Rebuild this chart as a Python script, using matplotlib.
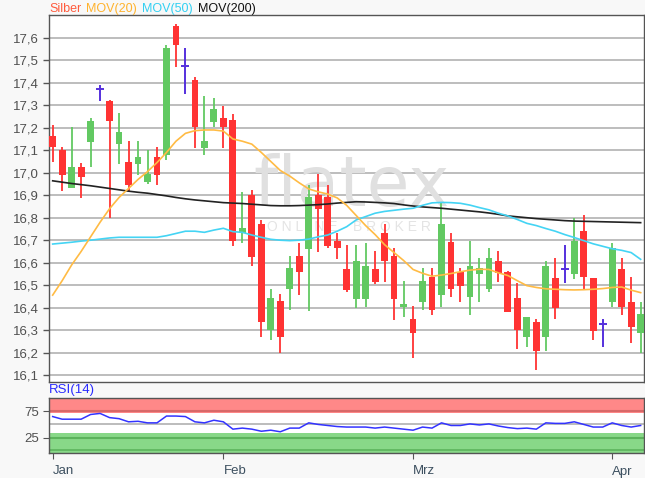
import numpy as np
from matplotlib import pyplot as plt
from matplotlib.ticker import FuncFormatter

plt.rcParams['font.family'] = ['Liberation Sans', 'DejaVu Sans']

# daily candles, silver (index = trading day)
opens = [17.163, 17.101, 16.931, 17.024, 17.138, 17.372, 17.320, 17.128, 17.049, 17.039,
         16.957, 17.071, 17.079, 17.652, 17.476, 17.412, 17.111, 17.227, 17.242, 17.234,
         16.731, 16.901, 16.771, 16.301, 16.430, 16.484, 16.630, 16.660, 16.901, 16.891,
         16.698, 16.572, 16.437, 16.437, 16.572, 16.731, 16.630, 16.404, 16.350, 16.427,
         16.538, 16.456, 16.691, 16.560, 16.446, 16.548, 16.483, 16.609, 16.560, 16.442,
         16.268, 16.338, 16.268, 16.531, 16.571, 16.548, 16.742, 16.531, 16.328, 16.427,
         16.572, 16.427, 16.289]
highs = [17.212, 17.116, 17.204, 17.042, 17.242, 17.390, 17.323, 17.264, 17.141, 17.141,
         17.101, 17.116, 17.568, 17.660, 17.556, 17.424, 17.341, 17.331, 17.298, 17.260,
         16.916, 16.923, 16.790, 16.483, 16.461, 16.630, 16.689, 16.945, 16.993, 16.945,
         16.732, 16.679, 16.679, 16.689, 16.653, 16.771, 16.667, 16.519, 16.409, 16.578,
         16.578, 16.864, 16.733, 16.578, 16.698, 16.620, 16.667, 16.652, 16.564, 16.509,
         16.360, 16.349, 16.609, 16.620, 16.679, 16.800, 16.812, 16.531, 16.349, 16.689,
         16.620, 16.538, 16.427]
lows = [17.049, 16.920, 16.931, 16.886, 17.027, 17.319, 16.800, 17.037, 16.916, 16.990,
        16.950, 16.945, 17.057, 17.471, 17.350, 17.111, 17.079, 17.204, 17.111, 16.676,
        16.686, 16.585, 16.268, 16.256, 16.197, 16.390, 16.456, 16.387, 16.649, 16.664,
        16.616, 16.468, 16.397, 16.404, 16.504, 16.516, 16.345, 16.357, 16.175, 16.390,
        16.368, 16.404, 16.446, 16.427, 16.368, 16.427, 16.471, 16.516, 16.380, 16.216,
        16.224, 16.123, 16.209, 16.349, 16.509, 16.526, 16.479, 16.256, 16.224, 16.404,
        16.368, 16.244, 16.200]
closes = [17.116, 16.990, 17.027, 16.980, 17.231, 17.372, 17.230, 17.182, 16.945, 17.071,
          16.993, 16.990, 17.556, 17.568, 17.476, 17.204, 17.141, 17.283, 17.204, 16.698,
          16.753, 16.627, 16.335, 16.442, 16.268, 16.578, 16.559, 16.891, 16.839, 16.674,
          16.664, 16.479, 16.609, 16.587, 16.516, 16.609, 16.437, 16.416, 16.286, 16.520,
          16.390, 16.771, 16.483, 16.496, 16.587, 16.575, 16.620, 16.553, 16.380, 16.301,
          16.360, 16.209, 16.587, 16.397, 16.571, 16.698, 16.538, 16.298, 16.328, 16.664,
          16.404, 16.316, 16.371]

mov20 = [16.456, 16.52, 16.59, 16.65, 16.715, 16.78, 16.84, 16.89, 16.93, 16.97,
         17.005, 17.045, 17.09, 17.14, 17.175, 17.187, 17.19, 17.19, 17.185, 17.15,
         17.14, 17.127, 17.09, 17.05, 17.01, 16.985, 16.955, 16.928, 16.915, 16.905,
         16.888, 16.855, 16.81, 16.765, 16.725, 16.68, 16.645, 16.61, 16.57, 16.553,
         16.54, 16.545, 16.552, 16.56, 16.567, 16.571, 16.57, 16.555, 16.543, 16.52,
         16.498, 16.49, 16.484, 16.482, 16.48, 16.479, 16.48, 16.482, 16.485, 16.49,
         16.492, 16.478, 16.467]
mov50 = [16.683, 16.687, 16.691, 16.696, 16.70, 16.705, 16.71, 16.713, 16.713, 16.713,
         16.713, 16.713, 16.72, 16.73, 16.74, 16.74, 16.735, 16.745, 16.753, 16.738,
         16.735, 16.723, 16.713, 16.704, 16.70, 16.698, 16.70, 16.705, 16.715, 16.723,
         16.74, 16.76, 16.79, 16.805, 16.82, 16.828, 16.833, 16.838, 16.842, 16.855,
         16.866, 16.868, 16.867, 16.864, 16.856, 16.845, 16.835, 16.82, 16.808, 16.792,
         16.775, 16.765, 16.752, 16.74, 16.725, 16.712, 16.698, 16.684, 16.673, 16.662,
         16.655, 16.645, 16.615]
mov200 = [16.964, 16.958, 16.952, 16.947, 16.942, 16.936, 16.930, 16.924, 16.918, 16.913,
          16.909, 16.903, 16.897, 16.89, 16.884, 16.879, 16.875, 16.871, 16.867, 16.865,
          16.863, 16.86, 16.857, 16.854, 16.853, 16.853, 16.854, 16.856, 16.858, 16.861,
          16.865, 16.868, 16.871, 16.87, 16.868, 16.866, 16.863, 16.857, 16.852, 16.848,
          16.845, 16.842, 16.838, 16.834, 16.83, 16.826, 16.821, 16.815, 16.808, 16.804,
          16.8, 16.796, 16.793, 16.79, 16.787, 16.785, 16.784, 16.783, 16.782, 16.781,
          16.78, 16.779, 16.778]
rsi = [65, 60, 60, 60, 69, 71, 63, 61, 55, 56,
       53, 53, 66, 66, 65, 55, 53, 58, 55, 41,
       43, 41, 37, 39, 36, 43, 43, 53, 50, 48,
       46, 45, 45, 45, 43, 45, 43, 41, 39, 45,
       43, 53, 48, 48, 51, 49, 51, 47, 44, 42,
       43, 41, 53, 52, 52, 55, 50, 45, 45, 53,
       48, 45, 48]

month_pos = [0, 18, 38, 59]
month_labels = ["Jan", "Feb", "Mrz", "Apr"]
price_ticks = [16.1, 16.2, 16.3, 16.4, 16.5, 16.6, 16.7, 16.8, 16.9, 17.0,
               17.1, 17.2, 17.3, 17.4, 17.5, 17.6]

RED = '#ff3333'
GREEN = '#62c962'
DOJI = '#5530dd'
W, H = 645, 478

fig = plt.figure(figsize=(W / 100, H / 100), dpi=100, facecolor='#f8f8f8')
ax = fig.add_axes([48.5 / W, 1 - 381.5 / H, 595 / W, 366.5 / H])
ax2 = fig.add_axes([48.5 / W, 1 - 453 / H, 595 / W, 55.3 / H])

o = np.array(opens); h = np.array(highs); l = np.array(lows); c = np.array(closes)
x = np.arange(len(o))
up = c > o
down = c < o
doji = c == o

# gridlines
for p in price_ticks:
    ax.axhline(p, color='#b8b8b8', lw=1.3, zorder=0)

# watermark
ax.text(0.51, 0.478, "flatex", transform=ax.transAxes, ha='center', va='baseline',
        fontsize=50, color='#e0e0e0', zorder=0.5, fontfamily='DejaVu Sans')
ax.text(0.505, 0.41, "O N L I N E    B R O K E R", transform=ax.transAxes, ha='center',
        va='baseline', fontsize=10, color='#e4e4e4', zorder=0.5)

# candles
ax.vlines(x[up], l[up], h[up], color=GREEN, lw=1.3, zorder=2)
ax.vlines(x[down], l[down], h[down], color=RED, lw=1.3, zorder=2)
ax.bar(x[up], c[up] - o[up], bottom=o[up], width=0.72, color=GREEN, zorder=3)
ax.bar(x[down], o[down] - c[down], bottom=c[down], width=0.72, color=RED, zorder=3)
ax.vlines(x[doji], l[doji], h[doji], color=DOJI, lw=1.4, zorder=3)
ax.hlines(o[doji], x[doji] - 0.42, x[doji] + 0.42, color=DOJI, lw=1.4, zorder=3)

ax.plot(x, mov200, color='#222222', lw=1.2, zorder=4)
ax.plot(x, mov50, color='#44d4f4', lw=1.2, zorder=4)
ax.plot(x, mov20, color='#ffbb44', lw=1.2, zorder=4)

ax.set_xlim(-0.44, 62.3)
ax.set_ylim(16.072, 17.701)
ax.set_xticks([])
ax.set_yticks(price_ticks)
ax.yaxis.set_major_formatter(FuncFormatter(lambda v, pos: f"{v:.1f}".replace('.', ',')))
ax.tick_params(axis='y', direction='out', length=4, width=1, color='#555555',
               labelsize=9.5, labelcolor='#505050', pad=3)
for s in ax.spines.values():
    s.set_color('#555555')
    s.set_linewidth(1)

# legend line on top
fig.text(49 / W, 1 - 9 / H, "Silber", color='#ff5a3c', fontsize=9, va='center')
fig.text(86 / W, 1 - 9 / H, "MOV(20)", color='#ffb22c', fontsize=9, va='center')
fig.text(142 / W, 1 - 9 / H, "MOV(50)", color='#33d0f2', fontsize=9, va='center')
fig.text(198 / W, 1 - 9 / H, "MOV(200)", color='#111111', fontsize=9, va='center')

# RSI panel
ax2.axhspan(71, 102, color='#ff8888', lw=0, zorder=0)
ax2.axhspan(-6, 33, color='#88d888', lw=0, zorder=0)
ax2.axhline(75, color='#d86868', lw=1.5, zorder=1)
ax2.axhline(99.5, color='#d86868', lw=1.2, zorder=1)
ax2.axhline(25, color='#5cb35c', lw=1.5, zorder=1)
ax2.axhline(0.5, color='#5cb35c', lw=1.2, zorder=1)
ax2.axhline(50, color='#b0b0b0', lw=1.2, zorder=1)
ax2.plot(x, rsi, color='#3333ff', lw=1.1, zorder=2)
ax2.set_xlim(-0.44, 62.3)
ax2.set_ylim(-4.5, 101)
ax2.set_yticks([25, 75])
ax2.tick_params(axis='y', direction='out', length=4, color='#555555',
                labelsize=9.5, labelcolor='#505050', pad=3)
ax2.set_xticks(month_pos)
ax2.set_xticklabels(month_labels)
ax2.tick_params(axis='x', direction='out', length=4, color='#555555',
                labelsize=9.5, labelcolor='#3d5060', pad=5)
for lab in ax2.get_xticklabels():
    lab.set_horizontalalignment('left')
for s in ax2.spines.values():
    s.set_color('#555555')
    s.set_linewidth(1)
fig.text(49 / W, 1 - 390 / H, "RSI(14)", color='#2a2aff', fontsize=9.5, va='center')

fig.savefig('out.png', dpi=100, facecolor=fig.get_facecolor())
